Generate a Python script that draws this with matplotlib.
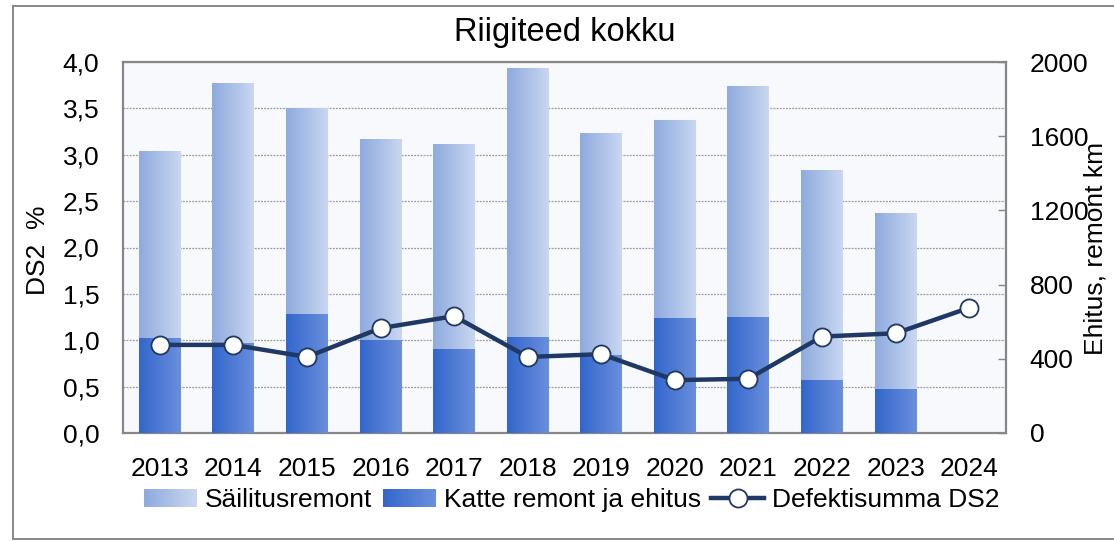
import numpy as np
import matplotlib
matplotlib.use("Agg")
import matplotlib.pyplot as plt
from matplotlib.colors import LinearSegmentedColormap, to_rgb
from matplotlib.patches import Rectangle
from matplotlib.lines import Line2D
from matplotlib.legend_handler import HandlerBase
from matplotlib.ticker import FuncFormatter, MultipleLocator

plt.rcParams['font.family'] = ['Liberation Sans', 'DejaVu Sans']

years = ['2013', '2014', '2015', '2016', '2017', '2018', '2019', '2020', '2021', '2022', '2023', '2024']
# km
sailitus_total = [1520, 1881, 1752, 1580, 1553, 1962, 1612, 1687, 1865, 1418, 1186, np.nan]
katte = [512, 484, 642, 501, 453, 517, 420, 620, 625, 286, 239, np.nan]
# DS2 %
ds2 = [0.95, 0.95, 0.82, 1.13, 1.26, 0.82, 0.85, 0.57, 0.585, 1.04, 1.075, 1.35]

title = 'Riigiteed kokku'
left_label = 'DS2  %'
right_label = 'Ehitus, remont km'
legend_labels = ['Säilitusremont', 'Katte remont ja ehitus', 'Defektisumma DS2']

light_cols = ('#8eaade', '#c9d7f1')
dark_cols = ('#3366cc', '#6a8fdc')
line_col = '#1f3864'
FS = 19

sailitus = [t - k if np.isfinite(t) else np.nan for t, k in zip(sailitus_total, katte)]

W, H = 1114, 541
fig = plt.figure(figsize=(W / 100, H / 100), dpi=100)
pos = [123 / W, 1 - 433 / H, (1006 - 123) / W, (433 - 62) / H]

ax = fig.add_axes(pos)
ax.set_facecolor('#f8f9fc')
ax.set_ylim(0, 4)
ax.set_xlim(-0.5, len(years) - 0.5)
ax.yaxis.set_major_locator(MultipleLocator(0.5))
ax.yaxis.set_major_formatter(FuncFormatter(lambda v, p: f"{v:.1f}".replace('.', ',')))
ax.grid(axis='y', color='#9a9a9a', linestyle=(0, (1.5, 1)), linewidth=0.9)
ax.set_axisbelow(True)
ax.tick_params(axis='y', length=0, pad=17, labelsize=FS)
ax.tick_params(axis='x', length=0, pad=17, labelsize=FS)
x = np.arange(len(years))
ax.set_xticks(x)
ax.set_xticklabels(years)
for s in ax.spines.values():
    s.set_color('#878787')
    s.set_linewidth(1.6)

ax2 = fig.add_axes(pos, sharex=ax)
ax2.patch.set_visible(False)
ax2.set_ylim(0, 2000)
ax2.yaxis.tick_right()
ax2.yaxis.set_major_locator(MultipleLocator(400))
ax2.tick_params(axis='y', direction='in', length=6, width=1, color='#878787', pad=17, labelsize=FS)
ax2.tick_params(axis='x', which='both', length=0, labelbottom=False)
for s in ax2.spines.values():
    s.set_visible(False)

bw = 0.57
b_dark = ax2.bar(x, katte, bw, color='none', edgecolor='none')
b_light = ax2.bar(x, sailitus, bw, bottom=katte, color='none', edgecolor='none')

def gradient_fill(axx, bars, cols):
    cmap = LinearSegmentedColormap.from_list('g', [to_rgb(cols[0]), to_rgb(cols[1])])
    grad = np.linspace(0, 1, 256).reshape(1, -1)
    for r in bars:
        x0, y0, w, h = r.get_x(), r.get_y(), r.get_width(), r.get_height()
        if not (np.isfinite(h) and np.isfinite(y0)) or h <= 0:
            continue
        axx.imshow(grad, cmap=cmap, extent=[x0, x0 + w, y0, y0 + h], aspect='auto',
                   interpolation='bilinear', zorder=2)

gradient_fill(ax2, b_dark, dark_cols)
gradient_fill(ax2, b_light, light_cols)
ax2.set_xlim(-0.5, len(years) - 0.5)
ax2.set_ylim(0, 2000)

ax3 = fig.add_axes(pos, sharex=ax)
ax3.set_ylim(0, 4)
ax3.axis('off')
ax3.plot(x, ds2, color=line_col, linewidth=3.2, marker='o', markersize=13,
         markerfacecolor='white', markeredgecolor=line_col, markeredgewidth=1.3, clip_on=False)
ax3.set_xlim(-0.5, len(years) - 0.5)
ax3.set_ylim(0, 4)

fig.text((123 + 1006) / 2 / W, 1 - 32 / H, title, ha='center', va='center', fontsize=23.5)
fig.text(38 / W, 1 - 250 / H, left_label, rotation=90, ha='center', va='center', fontsize=FS)
fig.text(1095 / W, 1 - 248 / H, right_label, rotation=90, ha='center', va='center', fontsize=FS)

# figure border (top, bottom, left)
bc = '#808080'
fig.add_artist(Line2D([13 / W, 1], [1 - 6 / H, 1 - 6 / H], transform=fig.transFigure, color=bc, linewidth=1.3))
fig.add_artist(Line2D([13 / W, 1], [1 - 539 / H, 1 - 539 / H], transform=fig.transFigure, color=bc, linewidth=1.3))
fig.add_artist(Line2D([13 / W, 13 / W], [1 - 6 / H, 1 - 539 / H], transform=fig.transFigure, color=bc, linewidth=1.3))


class GradHandler(HandlerBase):
    def __init__(self, cols):
        super().__init__()
        self.cols = cols

    def create_artists(self, legend, orig_handle, xdescent, ydescent, width, height, fontsize, trans):
        n = 30
        c0 = np.array(to_rgb(self.cols[0]))
        c1 = np.array(to_rgb(self.cols[1]))
        arts = []
        hh = height * 0.95
        y0 = -ydescent + (height - hh) / 2
        for i in range(n):
            c = c0 + (c1 - c0) * i / (n - 1)
            r = Rectangle((-xdescent + width * i / n, y0), width / n * 1.05, hh,
                          facecolor=c, edgecolor='none', transform=trans)
            arts.append(r)
        return arts


h_light = Rectangle((0, 0), 1, 1)
h_dark = Rectangle((0, 0), 1, 1, label='d')
h_line = Line2D([], [], color=line_col, linewidth=3.2, marker='o', markersize=13,
                markerfacecolor='white', markeredgecolor=line_col, markeredgewidth=1.3)
leg = fig.legend([h_light, h_dark, h_line], legend_labels, ncol=3,
                 loc='center', bbox_to_anchor=(572 / W, 1 - 500 / H), frameon=False,
                 fontsize=FS, handlelength=2.0, handletextpad=0.3, columnspacing=0.4,
                 handler_map={h_light: GradHandler(light_cols), h_dark: GradHandler(dark_cols)})

fig.savefig('out.png', dpi=100)
